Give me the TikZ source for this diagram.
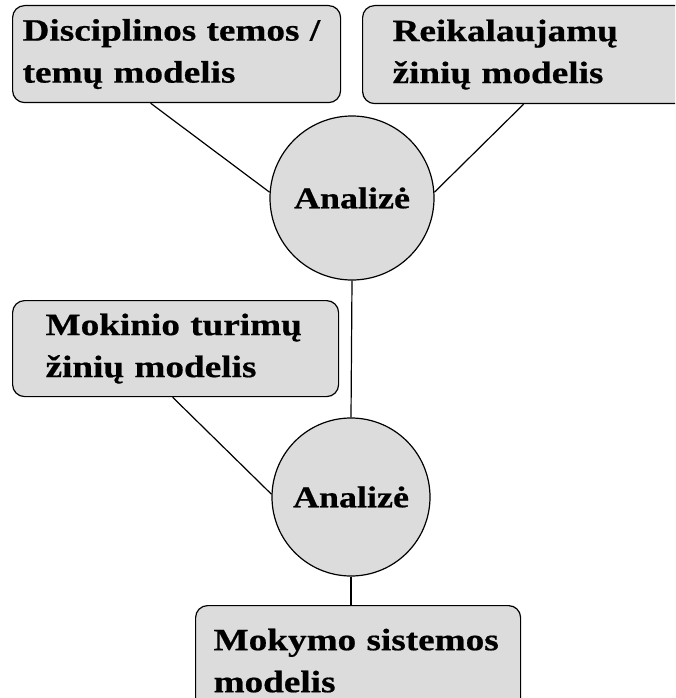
\documentclass[tikz,border=0pt]{standalone}
\usepackage{fontspec}
\newfontfamily\labelfont{Liberation Serif}[FakeStretch=1.2, FakeBold=0.6]
\usetikzlibrary{positioning}
\definecolor{boxgray}{RGB}{220,220,220}
\tikzset{
  modelbox/.style={draw, rectangle, rounded corners=12pt, fill=boxgray, line width=1.2pt,
    anchor=north west, align=left, font=\labelfont\bfseries\fontsize{31}{42}\selectfont},
  analysis/.style={draw, circle, fill=boxgray, line width=1.2pt, inner sep=0pt,
    font=\labelfont\bfseries\fontsize{30}{40}\selectfont},
  link/.style={line width=1.2pt}
}
\begin{document}
\begin{tikzpicture}[x=1pt, y=-1pt]
            \useasboundingbox (0,0) rectangle (675,698);
            \clip (0,0) rectangle (675,698);
            \node (topic) [modelbox, minimum width=328pt, minimum height=97pt, text width=308pt, inner xsep=10pt] at (12,5) {Disciplinos~temos~/\\temų~modelis};
            \node (required) [modelbox, minimum width=330pt, minimum height=98pt, text width=270pt, inner xsep=30pt] at (362,5) {Reikalaujamų\\žinių~modelis};
            \node (learner) [modelbox, minimum width=326pt, minimum height=96pt, text width=260pt, inner xsep=33pt] at (12,300) {Mokinio~turimų\\žinių~modelis};
            \node (system) [modelbox, minimum width=325pt, minimum height=110pt, text width=289pt, inner xsep=18pt] at (195,605) {Mokymo~sistemos\\modelis};
            \node (analysisA) [analysis, minimum size=164pt] at (352,198) {Analizė};
            \node (analysisB) [analysis, minimum size=158pt] at (351,497) {Analizė};

            \draw[link] ([xshift=-26pt]topic.south) -- (analysisA.176);
            \draw[link] ([xshift=-4pt]required.south) -- (analysisA.4);
            \draw[link] (analysisA.south) -- (analysisB.north);
            \draw[link] ([xshift=-3pt]learner.south) -- (analysisB.178);
            \draw[link] (analysisB.south) -- (analysisB.south |- system.north);
        \end{tikzpicture}
\end{document}
